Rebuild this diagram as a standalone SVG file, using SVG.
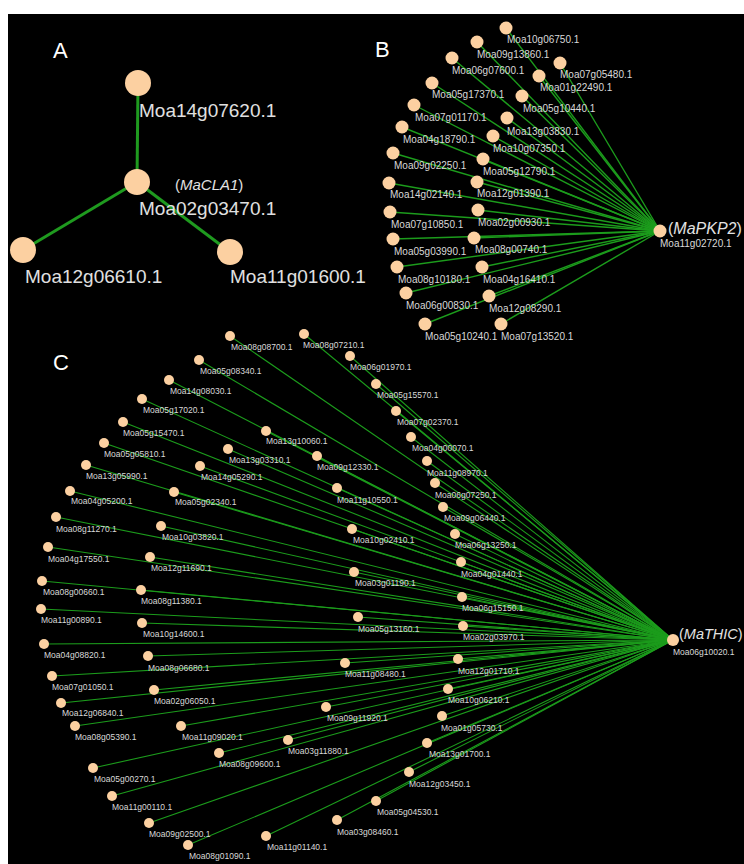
<svg xmlns="http://www.w3.org/2000/svg" width="744" height="864" viewBox="0 0 744 864">
<style>
text{font-family:"Liberation Sans",Arial,sans-serif}
.panel{fill:#fff;font-size:22px}
.n{fill:#fcd0a1}
.lA{fill:#e0e0e0;font-size:19px}
.lB{fill:#d9d9d9;font-size:10px}
.lC{fill:#d9d9d9;font-size:8.5px}
.gn{fill:#e2e2e2}
.eA{stroke:#1f9a1f;stroke-width:3;fill:none}
.eB{stroke:#1c9c1c;stroke-width:1.4;fill:none}
.eC{stroke:#1c9c1c;stroke-width:1.1;fill:none}
</style>
<rect x="0" y="0" width="744" height="864" fill="#fff"/>
<rect x="8" y="14" width="736" height="850" fill="#000"/>
<text class="panel" x="53" y="58">A</text>
<text class="panel" x="375" y="57">B</text>
<text class="panel" x="53" y="370">C</text>
<g id="edges">
<g id="edgesA">
<line class="eA" x1="137" y1="182" x2="138" y2="83"/>
<line class="eA" x1="137" y1="182" x2="23" y2="250"/>
<line class="eA" x1="137" y1="182" x2="230" y2="252"/>
</g>
<g id="edgesB">
<line class="eB" x1="660" y1="231" x2="506" y2="28"/>
<line class="eB" x1="660" y1="231" x2="477" y2="42"/>
<line class="eB" x1="660" y1="231" x2="560" y2="63"/>
<line class="eB" x1="660" y1="231" x2="452" y2="58"/>
<line class="eB" x1="660" y1="231" x2="539" y2="76"/>
<line class="eB" x1="660" y1="231" x2="432" y2="83"/>
<line class="eB" x1="660" y1="231" x2="522" y2="96"/>
<line class="eB" x1="660" y1="231" x2="414" y2="105"/>
<line class="eB" x1="660" y1="231" x2="507" y2="118"/>
<line class="eB" x1="660" y1="231" x2="402" y2="127"/>
<line class="eB" x1="660" y1="231" x2="493" y2="136"/>
<line class="eB" x1="660" y1="231" x2="393" y2="153"/>
<line class="eB" x1="660" y1="231" x2="483" y2="159"/>
<line class="eB" x1="660" y1="231" x2="389" y2="183"/>
<line class="eB" x1="660" y1="231" x2="477" y2="182"/>
<line class="eB" x1="660" y1="231" x2="390" y2="212"/>
<line class="eB" x1="660" y1="231" x2="478" y2="210"/>
<line class="eB" x1="660" y1="231" x2="393" y2="239"/>
<line class="eB" x1="660" y1="231" x2="474" y2="238"/>
<line class="eB" x1="660" y1="231" x2="397" y2="267"/>
<line class="eB" x1="660" y1="231" x2="482" y2="267"/>
<line class="eB" x1="660" y1="231" x2="406" y2="293"/>
<line class="eB" x1="660" y1="231" x2="489" y2="296"/>
<line class="eB" x1="660" y1="231" x2="425" y2="324"/>
<line class="eB" x1="660" y1="231" x2="501" y2="324"/>
</g>
<g id="edgesC">
<line class="eC" x1="673" y1="640" x2="230" y2="336"/>
<line class="eC" x1="673" y1="640" x2="199" y2="360"/>
<line class="eC" x1="673" y1="640" x2="169" y2="380"/>
<line class="eC" x1="673" y1="640" x2="142" y2="399"/>
<line class="eC" x1="673" y1="640" x2="123" y2="422"/>
<line class="eC" x1="673" y1="640" x2="104" y2="443"/>
<line class="eC" x1="673" y1="640" x2="86" y2="465"/>
<line class="eC" x1="673" y1="640" x2="70" y2="491"/>
<line class="eC" x1="673" y1="640" x2="56" y2="517"/>
<line class="eC" x1="673" y1="640" x2="48" y2="547"/>
<line class="eC" x1="673" y1="640" x2="42" y2="581"/>
<line class="eC" x1="673" y1="640" x2="41" y2="609"/>
<line class="eC" x1="673" y1="640" x2="44" y2="644"/>
<line class="eC" x1="673" y1="640" x2="52" y2="676"/>
<line class="eC" x1="673" y1="640" x2="61" y2="703"/>
<line class="eC" x1="673" y1="640" x2="75" y2="726"/>
<line class="eC" x1="673" y1="640" x2="93" y2="768"/>
<line class="eC" x1="673" y1="640" x2="112" y2="796"/>
<line class="eC" x1="673" y1="640" x2="149" y2="823"/>
<line class="eC" x1="673" y1="640" x2="188" y2="845"/>
<line class="eC" x1="673" y1="640" x2="266" y2="836"/>
<line class="eC" x1="673" y1="640" x2="337" y2="820"/>
<line class="eC" x1="673" y1="640" x2="376" y2="801"/>
<line class="eC" x1="673" y1="640" x2="409" y2="772"/>
<line class="eC" x1="673" y1="640" x2="427" y2="743"/>
<line class="eC" x1="673" y1="640" x2="442" y2="716"/>
<line class="eC" x1="673" y1="640" x2="448" y2="689"/>
<line class="eC" x1="673" y1="640" x2="458" y2="659"/>
<line class="eC" x1="673" y1="640" x2="463" y2="626"/>
<line class="eC" x1="673" y1="640" x2="462" y2="597"/>
<line class="eC" x1="673" y1="640" x2="461" y2="562"/>
<line class="eC" x1="673" y1="640" x2="455" y2="534"/>
<line class="eC" x1="673" y1="640" x2="443" y2="507"/>
<line class="eC" x1="673" y1="640" x2="435" y2="483"/>
<line class="eC" x1="673" y1="640" x2="427" y2="461"/>
<line class="eC" x1="673" y1="640" x2="411" y2="437"/>
<line class="eC" x1="673" y1="640" x2="396" y2="411"/>
<line class="eC" x1="673" y1="640" x2="376" y2="384"/>
<line class="eC" x1="673" y1="640" x2="350" y2="356"/>
<line class="eC" x1="673" y1="640" x2="304" y2="334"/>
<line class="eC" x1="673" y1="640" x2="266" y2="431"/>
<line class="eC" x1="673" y1="640" x2="228" y2="449"/>
<line class="eC" x1="673" y1="640" x2="200" y2="466"/>
<line class="eC" x1="673" y1="640" x2="174" y2="492"/>
<line class="eC" x1="673" y1="640" x2="317" y2="456"/>
<line class="eC" x1="673" y1="640" x2="337" y2="488"/>
<line class="eC" x1="673" y1="640" x2="161" y2="526"/>
<line class="eC" x1="673" y1="640" x2="150" y2="557"/>
<line class="eC" x1="673" y1="640" x2="141" y2="590"/>
<line class="eC" x1="673" y1="640" x2="142" y2="623"/>
<line class="eC" x1="673" y1="640" x2="148" y2="656"/>
<line class="eC" x1="673" y1="640" x2="154" y2="690"/>
<line class="eC" x1="673" y1="640" x2="181" y2="726"/>
<line class="eC" x1="673" y1="640" x2="219" y2="753"/>
<line class="eC" x1="673" y1="640" x2="288" y2="740"/>
<line class="eC" x1="673" y1="640" x2="326" y2="707"/>
<line class="eC" x1="673" y1="640" x2="345" y2="663"/>
<line class="eC" x1="673" y1="640" x2="358" y2="617"/>
<line class="eC" x1="673" y1="640" x2="354" y2="572"/>
<line class="eC" x1="673" y1="640" x2="352" y2="529"/>
</g>
</g>
<!-- Panel A nodes -->
<g id="nA-Moa02g03470"><circle class="n" cx="137" cy="182" r="13"/><text class="gn" x="175" y="190" font-size="15">(<tspan font-style="italic">MaCLA1</tspan>)</text><text class="lA" x="139" y="215">Moa02g03470.1</text></g>
<g id="nA-Moa14g07620"><circle class="n" cx="138" cy="83" r="13"/><text class="lA" x="139" y="117">Moa14g07620.1</text></g>
<g id="nA-Moa12g06610"><circle class="n" cx="23" cy="250" r="13"/><text class="lA" x="25" y="283">Moa12g06610.1</text></g>
<g id="nA-Moa11g01600"><circle class="n" cx="230" cy="252" r="13"/><text class="lA" x="230" y="283">Moa11g01600.1</text></g>
<!-- Panel B nodes -->
<g id="nB-Moa11g02720"><circle class="n" cx="660" cy="231" r="6.5"/><text class="gn" x="668" y="234" font-size="16">(<tspan font-style="italic">MaPKP2</tspan>)</text><text class="lB" x="660" y="247" font-size="11">Moa11g02720.1</text></g>
<g id="nB-Moa10g06750"><circle class="n" cx="506" cy="28" r="6.5"/><text class="lB" x="507" y="43">Moa10g06750.1</text></g>
<g id="nB-Moa09g13860"><circle class="n" cx="477" cy="42" r="6.5"/><text class="lB" x="477" y="58">Moa09g13860.1</text></g>
<g id="nB-Moa07g05480"><circle class="n" cx="560" cy="63" r="6.5"/><text class="lB" x="560" y="78">Moa07g05480.1</text></g>
<g id="nB-Moa06g07600"><circle class="n" cx="452" cy="58" r="6.5"/><text class="lB" x="452" y="74">Moa06g07600.1</text></g>
<g id="nB-Moa01g22490"><circle class="n" cx="539" cy="76" r="6.5"/><text class="lB" x="540" y="91">Moa01g22490.1</text></g>
<g id="nB-Moa05g17370"><circle class="n" cx="432" cy="83" r="6.5"/><text class="lB" x="432" y="98">Moa05g17370.1</text></g>
<g id="nB-Moa05g10440"><circle class="n" cx="522" cy="96" r="6.5"/><text class="lB" x="523" y="112">Moa05g10440.1</text></g>
<g id="nB-Moa07g01170"><circle class="n" cx="414" cy="105" r="6.5"/><text class="lB" x="415" y="121">Moa07g01170.1</text></g>
<g id="nB-Moa13g03830"><circle class="n" cx="507" cy="118" r="6.5"/><text class="lB" x="507" y="135">Moa13g03830.1</text></g>
<g id="nB-Moa04g18790"><circle class="n" cx="402" cy="127" r="6.5"/><text class="lB" x="403" y="143">Moa04g18790.1</text></g>
<g id="nB-Moa10g07350"><circle class="n" cx="493" cy="136" r="6.5"/><text class="lB" x="493" y="152">Moa10g07350.1</text></g>
<g id="nB-Moa09g02250"><circle class="n" cx="393" cy="153" r="6.5"/><text class="lB" x="394" y="169">Moa09g02250.1</text></g>
<g id="nB-Moa05g12790"><circle class="n" cx="483" cy="159" r="6.5"/><text class="lB" x="483" y="175">Moa05g12790.1</text></g>
<g id="nB-Moa14g02140"><circle class="n" cx="389" cy="183" r="6.5"/><text class="lB" x="390" y="198">Moa14g02140.1</text></g>
<g id="nB-Moa12g01390"><circle class="n" cx="477" cy="182" r="6.5"/><text class="lB" x="477" y="197">Moa12g01390.1</text></g>
<g id="nB-Moa07g10850"><circle class="n" cx="390" cy="212" r="6.5"/><text class="lB" x="391" y="228">Moa07g10850.1</text></g>
<g id="nB-Moa02g00930"><circle class="n" cx="478" cy="210" r="6.5"/><text class="lB" x="478" y="226">Moa02g00930.1</text></g>
<g id="nB-Moa05g03990"><circle class="n" cx="393" cy="239" r="6.5"/><text class="lB" x="394" y="255">Moa05g03990.1</text></g>
<g id="nB-Moa08g00740"><circle class="n" cx="474" cy="238" r="6.5"/><text class="lB" x="475" y="253">Moa08g00740.1</text></g>
<g id="nB-Moa08g10180"><circle class="n" cx="397" cy="267" r="6.5"/><text class="lB" x="398" y="283">Moa08g10180.1</text></g>
<g id="nB-Moa04g16410"><circle class="n" cx="482" cy="267" r="6.5"/><text class="lB" x="483" y="283">Moa04g16410.1</text></g>
<g id="nB-Moa06g00830"><circle class="n" cx="406" cy="293" r="6.5"/><text class="lB" x="406" y="309">Moa06g00830.1</text></g>
<g id="nB-Moa12g08290"><circle class="n" cx="489" cy="296" r="6.5"/><text class="lB" x="489" y="312">Moa12g08290.1</text></g>
<g id="nB-Moa05g10240"><circle class="n" cx="425" cy="324" r="6.5"/><text class="lB" x="425" y="340">Moa05g10240.1</text></g>
<g id="nB-Moa07g13520"><circle class="n" cx="501" cy="324" r="6.5"/><text class="lB" x="501" y="340">Moa07g13520.1</text></g>
<!-- Panel C nodes -->
<g id="nC-Moa06g10020"><circle class="n" cx="673" cy="640" r="6"/><text class="gn" x="679" y="639" font-size="14.5">(<tspan font-style="italic">MaTHIC</tspan>)</text><text class="lC" x="673" y="655">Moa06g10020.1</text></g>
<g id="nC-Moa08g08700"><circle class="n" cx="230" cy="336" r="5"/><text class="lC" x="231" y="350">Moa08g08700.1</text></g>
<g id="nC-Moa05g08340"><circle class="n" cx="199" cy="360" r="5"/><text class="lC" x="200" y="374">Moa05g08340.1</text></g>
<g id="nC-Moa14g08030"><circle class="n" cx="169" cy="380" r="5"/><text class="lC" x="170" y="394">Moa14g08030.1</text></g>
<g id="nC-Moa05g17020"><circle class="n" cx="142" cy="399" r="5"/><text class="lC" x="143" y="413">Moa05g17020.1</text></g>
<g id="nC-Moa05g15470"><circle class="n" cx="123" cy="422" r="5"/><text class="lC" x="123" y="436">Moa05g15470.1</text></g>
<g id="nC-Moa05g05810"><circle class="n" cx="104" cy="443" r="5"/><text class="lC" x="104" y="457">Moa05g05810.1</text></g>
<g id="nC-Moa13g05990"><circle class="n" cx="86" cy="465" r="5"/><text class="lC" x="86" y="479">Moa13g05990.1</text></g>
<g id="nC-Moa04g05200"><circle class="n" cx="70" cy="491" r="5"/><text class="lC" x="71" y="504">Moa04g05200.1</text></g>
<g id="nC-Moa08g11270"><circle class="n" cx="56" cy="517" r="5"/><text class="lC" x="56" y="532">Moa08g11270.1</text></g>
<g id="nC-Moa04g17550"><circle class="n" cx="48" cy="547" r="5"/><text class="lC" x="48" y="562">Moa04g17550.1</text></g>
<g id="nC-Moa08g00660"><circle class="n" cx="42" cy="581" r="5"/><text class="lC" x="43" y="595">Moa08g00660.1</text></g>
<g id="nC-Moa11g00890"><circle class="n" cx="41" cy="609" r="5"/><text class="lC" x="41" y="623">Moa11g00890.1</text></g>
<g id="nC-Moa04g08820"><circle class="n" cx="44" cy="644" r="5"/><text class="lC" x="44" y="658">Moa04g08820.1</text></g>
<g id="nC-Moa07g01050"><circle class="n" cx="52" cy="676" r="5"/><text class="lC" x="52" y="690">Moa07g01050.1</text></g>
<g id="nC-Moa12g06840"><circle class="n" cx="61" cy="703" r="5"/><text class="lC" x="62" y="716">Moa12g06840.1</text></g>
<g id="nC-Moa08g05390"><circle class="n" cx="75" cy="726" r="5"/><text class="lC" x="75" y="740">Moa08g05390.1</text></g>
<g id="nC-Moa05g00270"><circle class="n" cx="93" cy="768" r="5"/><text class="lC" x="94" y="782">Moa05g00270.1</text></g>
<g id="nC-Moa11g00110"><circle class="n" cx="112" cy="796" r="5"/><text class="lC" x="112" y="810">Moa11g00110.1</text></g>
<g id="nC-Moa09g02500"><circle class="n" cx="149" cy="823" r="5"/><text class="lC" x="149" y="837">Moa09g02500.1</text></g>
<g id="nC-Moa08g01090"><circle class="n" cx="188" cy="845" r="5"/><text class="lC" x="189" y="859">Moa08g01090.1</text></g>
<g id="nC-Moa11g01140"><circle class="n" cx="266" cy="836" r="5"/><text class="lC" x="267" y="850">Moa11g01140.1</text></g>
<g id="nC-Moa03g08460"><circle class="n" cx="337" cy="820" r="5"/><text class="lC" x="337" y="835">Moa03g08460.1</text></g>
<g id="nC-Moa05g04530"><circle class="n" cx="376" cy="801" r="5"/><text class="lC" x="377" y="815">Moa05g04530.1</text></g>
<g id="nC-Moa12g03450"><circle class="n" cx="409" cy="772" r="5"/><text class="lC" x="409" y="787">Moa12g03450.1</text></g>
<g id="nC-Moa13g01700"><circle class="n" cx="427" cy="743" r="5"/><text class="lC" x="429" y="757">Moa13g01700.1</text></g>
<g id="nC-Moa01g05730"><circle class="n" cx="442" cy="716" r="5"/><text class="lC" x="441" y="731">Moa01g05730.1</text></g>
<g id="nC-Moa10g06210"><circle class="n" cx="448" cy="689" r="5"/><text class="lC" x="448" y="703">Moa10g06210.1</text></g>
<g id="nC-Moa12g01710"><circle class="n" cx="458" cy="659" r="5"/><text class="lC" x="458" y="674">Moa12g01710.1</text></g>
<g id="nC-Moa02g03970"><circle class="n" cx="463" cy="626" r="5"/><text class="lC" x="463" y="640">Moa02g03970.1</text></g>
<g id="nC-Moa06g15150"><circle class="n" cx="462" cy="597" r="5"/><text class="lC" x="462" y="611">Moa06g15150.1</text></g>
<g id="nC-Moa04g01440"><circle class="n" cx="461" cy="562" r="5"/><text class="lC" x="461" y="577">Moa04g01440.1</text></g>
<g id="nC-Moa06g13250"><circle class="n" cx="455" cy="534" r="5"/><text class="lC" x="455" y="548">Moa06g13250.1</text></g>
<g id="nC-Moa09g06440"><circle class="n" cx="443" cy="507" r="5"/><text class="lC" x="444" y="521">Moa09g06440.1</text></g>
<g id="nC-Moa06g07250"><circle class="n" cx="435" cy="483" r="5"/><text class="lC" x="435" y="498">Moa06g07250.1</text></g>
<g id="nC-Moa11g08970"><circle class="n" cx="427" cy="461" r="5"/><text class="lC" x="427" y="476">Moa11g08970.1</text></g>
<g id="nC-Moa04g00070"><circle class="n" cx="411" cy="437" r="5"/><text class="lC" x="412" y="451">Moa04g00070.1</text></g>
<g id="nC-Moa07g02370"><circle class="n" cx="396" cy="411" r="5"/><text class="lC" x="397" y="425">Moa07g02370.1</text></g>
<g id="nC-Moa05g15570"><circle class="n" cx="376" cy="384" r="5"/><text class="lC" x="377" y="398">Moa05g15570.1</text></g>
<g id="nC-Moa06g01970"><circle class="n" cx="350" cy="356" r="5"/><text class="lC" x="350" y="370">Moa06g01970.1</text></g>
<g id="nC-Moa08g07210"><circle class="n" cx="304" cy="334" r="5"/><text class="lC" x="303" y="348">Moa08g07210.1</text></g>
<g id="nC-Moa13g10060"><circle class="n" cx="266" cy="431" r="5"/><text class="lC" x="266" y="444">Moa13g10060.1</text></g>
<g id="nC-Moa13g03310"><circle class="n" cx="228" cy="449" r="5"/><text class="lC" x="229" y="463">Moa13g03310.1</text></g>
<g id="nC-Moa14g05290"><circle class="n" cx="200" cy="466" r="5"/><text class="lC" x="201" y="480">Moa14g05290.1</text></g>
<g id="nC-Moa05g02340"><circle class="n" cx="174" cy="492" r="5"/><text class="lC" x="175" y="505">Moa05g02340.1</text></g>
<g id="nC-Moa09g12330"><circle class="n" cx="317" cy="456" r="5"/><text class="lC" x="317" y="470">Moa09g12330.1</text></g>
<g id="nC-Moa11g10550"><circle class="n" cx="337" cy="488" r="5"/><text class="lC" x="337" y="503">Moa11g10550.1</text></g>
<g id="nC-Moa10g03820"><circle class="n" cx="161" cy="526" r="5"/><text class="lC" x="162" y="540">Moa10g03820.1</text></g>
<g id="nC-Moa12g11690"><circle class="n" cx="150" cy="557" r="5"/><text class="lC" x="151" y="571">Moa12g11690.1</text></g>
<g id="nC-Moa08g11380"><circle class="n" cx="141" cy="590" r="5"/><text class="lC" x="141" y="604">Moa08g11380.1</text></g>
<g id="nC-Moa10g14600"><circle class="n" cx="142" cy="623" r="5"/><text class="lC" x="143" y="637">Moa10g14600.1</text></g>
<g id="nC-Moa08g06680"><circle class="n" cx="148" cy="656" r="5"/><text class="lC" x="148" y="671">Moa08g06680.1</text></g>
<g id="nC-Moa02g06050"><circle class="n" cx="154" cy="690" r="5"/><text class="lC" x="154" y="704">Moa02g06050.1</text></g>
<g id="nC-Moa11g09020"><circle class="n" cx="181" cy="726" r="5"/><text class="lC" x="182" y="740">Moa11g09020.1</text></g>
<g id="nC-Moa08g09600"><circle class="n" cx="219" cy="753" r="5"/><text class="lC" x="219" y="767">Moa08g09600.1</text></g>
<g id="nC-Moa03g11880"><circle class="n" cx="288" cy="740" r="5"/><text class="lC" x="288" y="754">Moa03g11880.1</text></g>
<g id="nC-Moa09g11920"><circle class="n" cx="326" cy="707" r="5"/><text class="lC" x="327" y="721">Moa09g11920.1</text></g>
<g id="nC-Moa11g08480"><circle class="n" cx="345" cy="663" r="5"/><text class="lC" x="345" y="677">Moa11g08480.1</text></g>
<g id="nC-Moa05g13160"><circle class="n" cx="358" cy="617" r="5"/><text class="lC" x="358" y="632">Moa05g13160.1</text></g>
<g id="nC-Moa03g01190"><circle class="n" cx="354" cy="572" r="5"/><text class="lC" x="355" y="586">Moa03g01190.1</text></g>
<g id="nC-Moa10g02410"><circle class="n" cx="352" cy="529" r="5"/><text class="lC" x="353" y="543">Moa10g02410.1</text></g>
</svg>
